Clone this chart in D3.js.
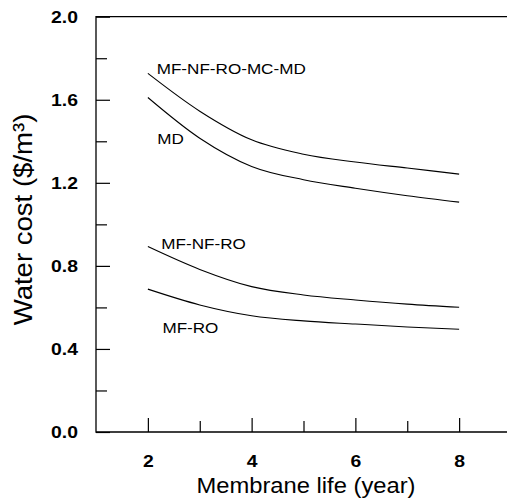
<!DOCTYPE html>
<html>
<head>
<meta charset="utf-8">
<script src="https://cdn.jsdelivr.net/npm/d3@7"></script>
<style>
  html, body { margin: 0; padding: 0; background: #fff; }
  svg { display: block; }
  text { font-family: "Liberation Sans", Arial, sans-serif; fill: #000; }
</style>
</head>
<body>
<svg id="chart" width="507" height="500"></svg>
<script>
// ---- data ----
const membraneLife = [2, 3, 4, 5, 6, 7, 8];
const seriesNames = ["MF-NF-RO-MC-MD", "MD", "MF-NF-RO", "MF-RO"];
const costMfNfRoMcMd = [1.727, 1.545, 1.407, 1.338, 1.300, 1.271, 1.242];
const costMd         = [1.611, 1.415, 1.279, 1.215, 1.174, 1.138, 1.107];
const costMfNfRo     = [0.893, 0.783, 0.700, 0.660, 0.636, 0.616, 0.601];
const costMfRo       = [0.688, 0.612, 0.560, 0.535, 0.520, 0.506, 0.495];
const xMajorTicks = [2, 4, 6, 8];
const xMinorTicks = [3, 5, 7];
const yMajorTicks = [0.0, 0.4, 0.8, 1.2, 1.6, 2.0];
const yMinorTicks = [0.2, 0.6, 1.0, 1.4, 1.8];
const xTitle = "Membrane life (year)";
const yTitle = "Water cost ($/m³)";

const seriesValues = [costMfNfRoMcMd, costMd, costMfNfRo, costMfRo];
const series = seriesNames.map((name, i) => ({
  name,
  points: membraneLife.map((x, j) => ({ x, y: seriesValues[i][j] }))
}));

// ---- layout ----
const svg = d3.select("#chart");
const mLeft = 96, mTop = 16.7, mRight = 511, mBottom = 432;
const x = d3.scaleLinear().domain([1, 9]).range([mLeft, mRight]);
const y = d3.scaleLinear().domain([0, 2]).range([mBottom, mTop]);
const stretch = 1.14;

// frame (left, top, bottom)
svg.append("path")
  .attr("d", `M${mRight},${mTop}H${mLeft}V${mBottom}H${mRight}`)
  .attr("fill", "none").attr("stroke", "#000").attr("stroke-width", 1.3);

// y axis
const gy = svg.append("g").attr("transform", `translate(${mLeft},0)`);
gy.call(d3.axisLeft(y).tickValues(yMajorTicks).tickSize(-14).tickPadding(18)
  .tickFormat(d3.format(".1f")));
gy.append("g").call(d3.axisLeft(y).tickValues(yMinorTicks).tickSize(-11).tickFormat(""));
gy.selectAll(".domain").remove();
gy.selectAll("line").attr("stroke", "#000").attr("stroke-width", 1.2);
gy.selectAll("text")
  .attr("font-size", 17).attr("font-weight", "bold")
  .attr("font-family", "Liberation Sans, Arial, sans-serif")
  .attr("x", -18 / stretch).attr("transform", `scale(${stretch},1)`);

// x axis
const gx = svg.append("g").attr("transform", `translate(0,${mBottom})`);
gx.call(d3.axisBottom(x).tickValues(xMajorTicks).tickSize(-14).tickPadding(24)
  .tickFormat(d3.format("d")));
gx.append("g").call(d3.axisBottom(x).tickValues(xMinorTicks).tickSize(-11).tickFormat(""));
gx.selectAll(".domain").remove();
gx.selectAll("line").attr("stroke", "#000").attr("stroke-width", 1.2);
gx.selectAll("text")
  .attr("font-size", 17).attr("font-weight", "bold")
  .attr("font-family", "Liberation Sans, Arial, sans-serif")
  .attr("y", 0).attr("dy", 0).attr("transform", `translate(0,35) scale(${stretch},1)`);

// curves
const line = d3.line().x(d => x(d.x)).y(d => y(d.y)).curve(d3.curveMonotoneX);
svg.append("g").selectAll("path").data(series).join("path")
  .attr("d", d => line(d.points))
  .attr("fill", "none").attr("stroke", "#000").attr("stroke-width", 1.1);

// curve labels (placed in data coordinates)
const labelAt = [
  { name: "MF-NF-RO-MC-MD", x: 2.17, y: 1.725 },
  { name: "MD", x: 2.18, y: 1.388 },
  { name: "MF-NF-RO", x: 2.26, y: 0.882 },
  { name: "MF-RO", x: 2.28, y: 0.478 }
];
svg.append("g").selectAll("text").data(labelAt).join("text")
  .attr("transform", d => `translate(${x(d.x)},${y(d.y)}) scale(${stretch},1)`)
  .attr("font-size", 15)
  .text(d => d.name);

// axis titles
svg.append("text")
  .attr("transform", `translate(306,493) scale(1.08,1)`)
  .attr("text-anchor", "middle").attr("font-size", 22)
  .text(xTitle);
svg.append("text")
  .attr("transform", `translate(32,219.5) rotate(-90) scale(1.04,1)`)
  .attr("text-anchor", "middle").attr("font-size", 26.5)
  .text(yTitle);
</script>
</body>
</html>
